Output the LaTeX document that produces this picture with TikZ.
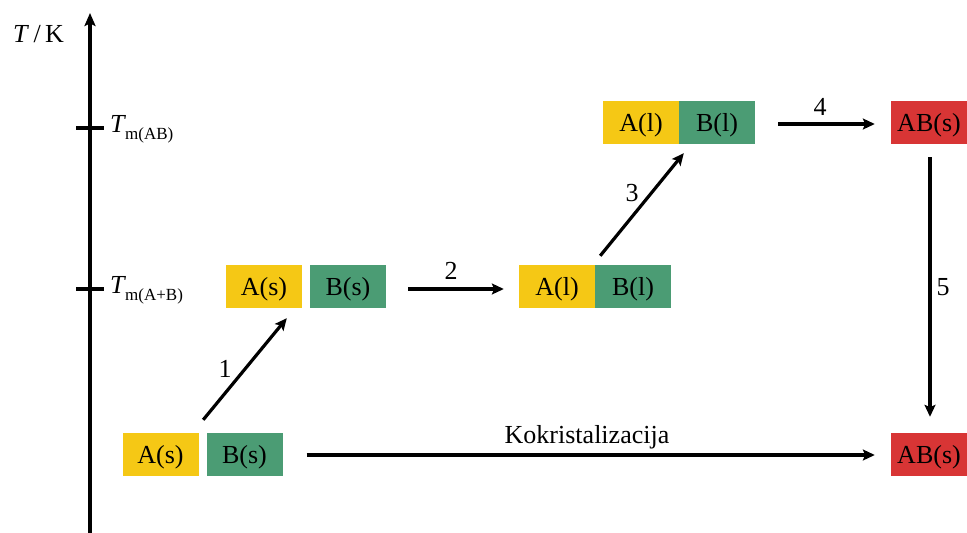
\documentclass[tikz,border=0pt]{standalone}
\usepackage{fontspec}
\setmainfont{Liberation Serif}
\usetikzlibrary{arrows.meta,calc}
\definecolor{cyellow}{HTML}{F5C815}
\definecolor{cgreen}{HTML}{4B9C74}
\definecolor{cred}{HTML}{D83535}
\tikzset{
  box/.style={minimum width=76pt,minimum height=43pt,inner sep=0pt,text height=17pt,text depth=0pt,font=\fontsize{26}{30}\selectfont},
  ybox/.style={box,fill=cyellow},
  gbox/.style={box,fill=cgreen},
  rbox/.style={box,fill=cred},
  conn/.style={line width=3.2pt,-{Stealth[length=12pt,width=11pt,inset=2.5pt]}},
  lbl/.style={inner sep=0pt,font=\fontsize{26}{30}\selectfont},
  axisline/.style={line width=3.4pt},
}
\begin{document}
\begin{tikzpicture}[x=1pt,y=-1pt]
\useasboundingbox (0,0) rectangle (967,533);
% axis
\coordinate (ax0) at (90,533);
\coordinate (ax1) at (90,13);
\draw[axisline,-{Stealth[length=13pt,width=11pt,inset=2.5pt]}] (ax0) -- (ax1);
\coordinate (t1a) at (76,128); \coordinate (t1b) at (104,128);
\coordinate (t2a) at (76,289); \coordinate (t2b) at (104,289);
\draw[axisline] (t1a) -- (t1b);
\draw[axisline] (t2a) -- (t2b);
\node[lbl,anchor=west] (axlab) at (13,34) {\fontsize{26}{30}\selectfont\textit{T}\,/\,K};
\node[lbl,anchor=west] (tmab) at (110,129) {\fontsize{26}{30}\selectfont\textit{T}\kern-1pt\raisebox{-7pt}{\fontsize{17}{20}\selectfont m(AB)}};
\node[lbl,anchor=west] (tmapb) at (110,290) {\fontsize{26}{30}\selectfont\textit{T}\kern-1pt\raisebox{-7pt}{\fontsize{17}{20}\selectfont m(A+B)}};
% boxes
\node[ybox] (bA) at (160.5,454.5) {A(s)};
\node[gbox] (bB) at (244.5,454.5) {B(s)};
\node[ybox] (mA) at (264,286.5) {A(s)};
\node[gbox] (mB) at (348,286.5) {B(s)};
\node[ybox] (lA) at (557,286.5) {A(l)};
\node[gbox] (lB) at (633,286.5) {B(l)};
\node[ybox] (tA) at (641,122.5) {A(l)};
\node[gbox] (tB) at (717,122.5) {B(l)};
\node[rbox] (tAB) at (929,122.5) {AB(s)};
\node[rbox] (bAB) at (929,454.5) {AB(s)};
% connector end points
\coordinate (c1s) at ($(bA.north east)+(4.5,-13)$);
\coordinate (c1e) at ($(mB.south west)+(-23,10)$);
\coordinate (c2s) at ($(mB.east)+(22,2.5)$);
\coordinate (c2e) at ($(lA.west)+(-15,2.5)$);
\coordinate (c3s) at ($(lA.north east)+(5,-9)$);
\coordinate (c3e) at ($(tB.south west)+(5,9)$);
\coordinate (c4s) at ($(tB.east)+(23,1.5)$);
\coordinate (c4e) at ($(tAB.west)+(-16,1.5)$);
\coordinate (c5s) at ($(tAB.south)+(1,13)$);
\coordinate (c5e) at ($(bAB.north)+(1,-16)$);
\coordinate (c6s) at ($(bB.east)+(24,0.5)$);
\coordinate (c6e) at ($(bAB.west)+(-16,0.5)$);
\draw[conn] (c1s) -- (c1e);
\draw[conn] (c2s) -- (c2e);
\draw[conn] (c3s) -- (c3e);
\draw[conn] (c4s) -- (c4e);
\draw[conn] (c5s) -- (c5e);
\draw[conn] (c6s) -- (c6e);
% labels
\node[lbl] (l1) at (225,369) {1};
\node[lbl] (l2) at (451,271) {2};
\node[lbl] (l3) at (632,193) {3};
\node[lbl] (l4) at (820,107) {4};
\node[lbl] (l5) at (943,287) {5};
\node[lbl] (l6) at (587,437) {Kokristalizacija};
\end{tikzpicture}
\end{document}
